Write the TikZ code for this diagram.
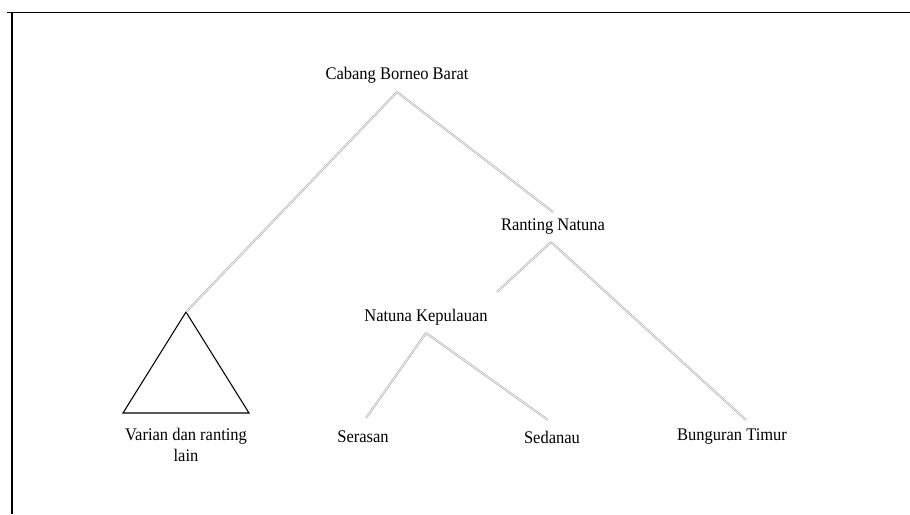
\documentclass[tikz,border=0pt]{standalone}
\usepackage{fontspec}
\setmainfont[FakeStretch=0.93]{Liberation Serif}
\usetikzlibrary{positioning}
\begin{document}
\begin{tikzpicture}[
			x=0.75pt, y=-0.75pt,
			lbl/.style={inner sep=0pt, font=\fontsize{13.3}{15.5}\selectfont, align=center},
			branch/.style={draw=gray!65, line width=0.5pt, double=white, double distance=0.5pt},
			frame/.style={draw=black, line width=1.2pt}
		]
		\useasboundingbox (0,0) rectangle (910,514);
		% frame
		\draw[frame] (7,12.5) -- (910,12.5);
		\draw[frame] (12,12) -- (12,514);

		% labels
		\node[lbl] (borneo) at (397,75) {Cabang Borneo Barat};
		\node[lbl] (ranting) at (553,227) {Ranting Natuna};
		\node[lbl] (kepulauan) at (426,317) {Natuna Kepulauan};
		\node[lbl] (serasan) at (363,437) {Serasan};
		\node[lbl] (sedanau) at (552,437) {Sedanau};
		\node[lbl] (bunguran) at (732,437) {Bunguran Timur};
		\node[lbl, anchor=north] (varian) at (186,428) {Varian dan ranting\\lain};

		% branch points
		\coordinate (top) at (397,92);
		\coordinate (rtop) at (551,242);
		\coordinate (ktop) at (426,333);
		\coordinate (rfree) at (497,292);
		\coordinate (tri) at (186,312);

		% triangle
		\draw[line width=0.8pt] (tri) -- (123,413) -- (249,413) -- cycle;

		% branches
		\draw[branch] (top) -- (tri);
		\draw[branch] (top) -- (553,212);
		\draw[branch] (rtop) -- (rfree);
		\draw[branch] (rtop) -- (746,420);
		\draw[branch] (ktop) -- (366,418);
		\draw[branch] (ktop) -- (548,420);
	\end{tikzpicture}
\end{document}
